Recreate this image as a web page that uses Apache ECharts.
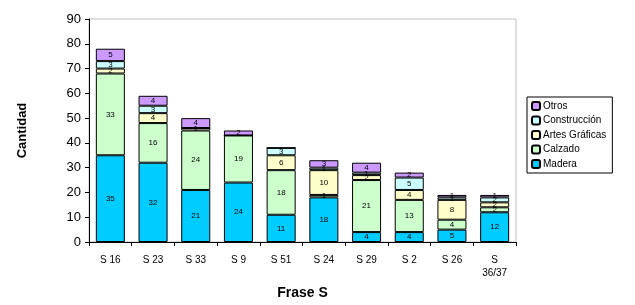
<!DOCTYPE html>
<html><head><meta charset="utf-8">
<script src="https://cdn.jsdelivr.net/npm/echarts@6/dist/echarts.min.js"></script>
<style>html,body{margin:0;padding:0;background:#fff}#c{width:635px;height:305px}</style>
</head><body><div id="c"></div>
<script>
var categories = ['S 16','S 23','S 33','S 9','S 51','S 24','S 29','S 2','S 26','S\n36/37'];
var madera       = [35,32,21,24,11,18,4,4,5,12];
var calzado      = [33,16,24,19,18,1,21,13,4,2];
var artesGraficas= [2,4,1,0,6,10,2,4,8,2];
var construccion = [3,3,0,0,3,1,1,5,1,2];
var otros        = [5,4,4,2,0,3,4,2,1,1];
var yTicks = [0,10,20,30,40,50,60,70,80,90];

var FONT = '"Liberation Sans", Arial, sans-serif';
function mk(name, data, color){
  return {
    name: name, type: 'bar', stack: 's', data: data, barWidth: '68%',
    itemStyle: {color: color, borderColor: '#000', borderWidth: 1},
    label: {show: true, position: 'inside', fontSize: 8, fontFamily: FONT, color: '#000',
      formatter: function(p){ return p.value ? String(p.value) : ''; }},
    emphasis: {disabled: true}
  };
}
var chart = echarts.init(document.getElementById('c'));
chart.setOption({
  animation: false,
  grid: {left: 89, right: 119, top: 19, bottom: 52, show: true, borderColor: '#c0c0c0', borderWidth: 1},
  legend: {
    orient: 'vertical', left: 527, top: 97, width: 105,
    data: ['Otros','Construcción','Artes Gráficas','Calzado','Madera'],
    itemWidth: 8, itemHeight: 8, itemGap: 4.5,
    borderColor: '#000', borderWidth: 1, padding: [4, 6, 4, 4],
    textStyle: {fontSize: 10, fontFamily: FONT, color: '#000', padding: [0,0,0,-2]},
    selectedMode: false
  },
  xAxis: {
    type: 'category', data: categories,
    name: 'Frase S', nameLocation: 'middle', nameGap: 44,
    nameTextStyle: {fontSize: 14, fontWeight: 'bold', fontFamily: FONT, color: '#000'},
    axisLine: {lineStyle: {color: '#000', width: 1}},
    axisTick: {show: true, length: 4, lineStyle: {color: '#000'}},
    axisLabel: {fontSize: 10, fontFamily: FONT, color: '#000', margin: 12, lineHeight: 13, interval: 0}
  },
  yAxis: {
    type: 'value', min: 0, max: 90, interval: 10,
    name: 'Cantidad', nameLocation: 'middle', nameGap: 60, nameRotate: 90,
    nameTextStyle: {fontSize: 13, fontWeight: 'bold', fontFamily: FONT, color: '#000'},
    axisLine: {show: true, lineStyle: {color: '#000', width: 1}},
    axisTick: {show: true, length: 4, lineStyle: {color: '#000'}},
    splitLine: {show: false},
    axisLabel: {fontSize: 13, fontFamily: FONT, color: '#000', margin: 8,
      formatter: function(v){ return yTicks.indexOf(v) >= 0 ? String(v) : ''; }}
  },
  series: [
    mk('Madera', madera, '#00CCFF'),
    mk('Calzado', calzado, '#CCFFCC'),
    mk('Artes Gráficas', artesGraficas, '#FFFFCC'),
    mk('Construcción', construccion, '#CCFFFF'),
    mk('Otros', otros, '#CC99FF')
  ]
});
</script></body></html>
